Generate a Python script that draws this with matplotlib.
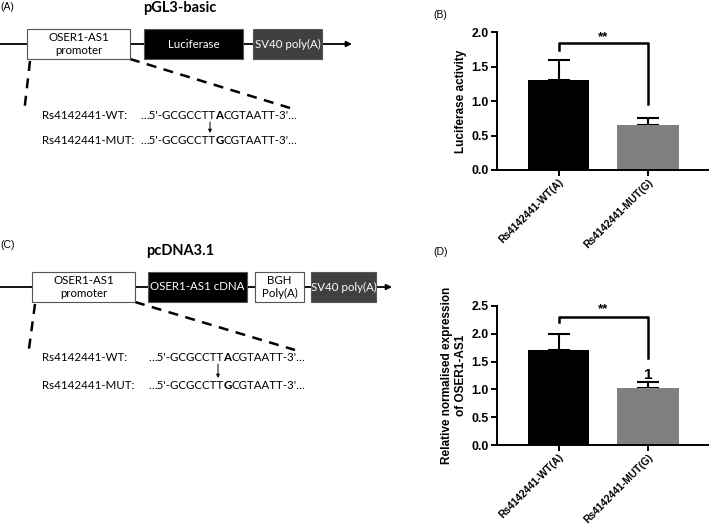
import matplotlib.pyplot as plt
from matplotlib.patches import Rectangle

# bar chart data
groups = ["Rs4142441-WT(A)", "Rs4142441-MUT(G)"]
bar_colors = ["#000000", "#808080"]
luc_mean = [1.31, 0.65]
luc_err = [0.28, 0.11]
expr_mean = [1.70, 1.02]
expr_err = [0.30, 0.11]

# construct diagrams
seq_wt = ["…5'-GCGCCTT", "A", "CGTAATT-3'…"]
seq_mut = ["…5'-GCGCCTT", "G", "CGTAATT-3'…"]

DIA_FONT = ["Lato", "DejaVu Sans"]
BAR_FONT = ["Liberation Sans", "DejaVu Sans"]

W, H = 709, 528
fig = plt.figure(figsize=(W / 100, H / 100), dpi=100)

# full-figure axes in pixel coordinates for the construct drawings
bg = fig.add_axes([0, 0, 1, 1])
bg.set_xlim(0, W)
bg.set_ylim(H, 0)
bg.axis("off")


def seq_text(x, y, parts):
    t = bg.text(x, y, parts[0], ha="left", va="bottom", fontsize=8.3, family=DIA_FONT)
    for i, p in enumerate(parts[1:]):
        t = bg.annotate(p, xy=(1, 0), xycoords=t, ha="left", va="bottom",
                        fontsize=8.3, family=DIA_FONT,
                        fontweight="bold" if i == 0 else "normal")


def construct(y0, title, boxes, arrow_end, dash_l, dash_r, wt_y, mut_y, seq_x, arrow_x,
              label, label_y, title_y):
    bg.text(0, label_y, label, ha="left", va="center", fontsize=7.5, family=BAR_FONT)
    bg.text(180, title_y, title, ha="center", va="center", fontsize=10.5,
            fontweight="bold", family=DIA_FONT)
    bg.annotate("", xy=(arrow_end, y0), xytext=(0, y0),
                arrowprops=dict(arrowstyle="-|>", color="black", lw=1.3,
                                mutation_scale=8, shrinkA=0, shrinkB=0))
    for (x1, x2, fc, tc, txt) in boxes:
        bg.add_patch(Rectangle((x1, y0 - 15), x2 - x1, 30, facecolor=fc,
                               edgecolor="#555555", lw=0.8, zorder=3))
        bg.text((x1 + x2) / 2, y0, txt, ha="center", va="center", color=tc,
                fontsize=8.3, family=DIA_FONT, zorder=4, linespacing=1.15)
    bg.plot(*zip(*dash_l), color="black", lw=1.8, ls=(0, (4, 3)))
    bg.plot(*zip(*dash_r), color="black", lw=1.8, ls=(0, (4, 3)))
    bg.text(42, wt_y, "Rs4142441-WT:", ha="left", va="bottom", fontsize=8.3, family=DIA_FONT)
    bg.text(42, mut_y, "Rs4142441-MUT:", ha="left", va="bottom", fontsize=8.3, family=DIA_FONT)
    seq_text(seq_x, wt_y, seq_wt)
    seq_text(seq_x, mut_y, seq_mut)
    bg.annotate("", xy=(arrow_x, mut_y - 13), xytext=(arrow_x, wt_y + 1),
                arrowprops=dict(arrowstyle="-|>", color="black", lw=0.7,
                                mutation_scale=5, shrinkA=0, shrinkB=0))


construct(44, "pGL3-basic",
          [(27, 130, "white", "black", "OSER1-AS1\npromoter"),
           (144, 243, "black", "white", "Luciferase"),
           (253, 322, "#404040", "white", "SV40 poly(A)")],
          352, [(30, 61), (24, 113)], [(130, 59), (290, 108)],
          121, 146, 140, 210, "(A)", 7, 8)

construct(287, "pcDNA3.1",
          [(32, 135, "white", "black", "OSER1-AS1\npromoter"),
           (148, 247, "black", "white", "OSER1-AS1 cDNA"),
           (255, 304, "white", "black", "BGH\nPoly(A)"),
           (311, 376, "#404040", "white", "SV40 poly(A)")],
          392, [(35, 304), (28, 356)], [(135, 302), (295, 350)],
          363, 391, 148, 218, "(C)", 245, 251)


def bar_panel(rect, means, errs, ymax, yticks, ylabel, bracket, star_y, label, label_xy, extra=None):
    x0, x1, y_top, y_bot = rect
    ax = fig.add_axes([x0 / W, 1 - y_bot / H, (x1 - x0) / W, (y_bot - y_top) / H])
    pos = [0, 1]
    ax.bar(pos, means, width=0.685, color=bar_colors, zorder=2)
    ax.errorbar(pos, means, yerr=[[0, 0], errs], fmt="none", ecolor="black",
                elinewidth=1.5, capsize=8, capthick=1.5, zorder=1)
    ax.set_xlim(-0.69, 1.67)
    ax.set_ylim(0, ymax)
    ax.set_yticks(yticks)
    ax.set_yticklabels(["%.1f" % v for v in yticks], fontsize=8.8, fontweight="bold", family=BAR_FONT)
    ax.set_xticks(pos)
    ax.set_xticklabels(groups, rotation=45, ha="right", rotation_mode="anchor",
                       fontsize=7.4, fontweight="bold", family=BAR_FONT)
    ax.set_ylabel(ylabel, fontsize=8.5, fontweight="bold", family=BAR_FONT, labelpad=3)
    for s in ["top", "right"]:
        ax.spines[s].set_visible(False)
    for s in ["left", "bottom"]:
        ax.spines[s].set_linewidth(1.4)
    ax.tick_params(axis="y", width=1.4, length=4, pad=2)
    ax.tick_params(axis="x", width=1.4, length=4, pad=1)
    top, left_end, right_end = bracket
    ax.plot([0, 0, 1, 1], [left_end, top, top, right_end], color="black", lw=1.8,
            clip_on=False, zorder=3)
    ax.text(0.5, star_y, "**", ha="center", va="center", fontsize=9.5,
            fontweight="bold", family=BAR_FONT)
    if extra is not None:
        ax.text(1, extra[1], extra[0], ha="center", va="bottom", fontsize=11,
                fontweight="bold", family=BAR_FONT)
    fig.text(label_xy[0] / W, 1 - label_xy[1] / H, label, ha="left", va="center",
             fontsize=7.5, family=BAR_FONT)
    return ax


bar_panel((497, 708, 32, 170), luc_mean, luc_err, 2.0, [0.0, 0.5, 1.0, 1.5, 2.0],
          "Luciferase activity", (1.84, 1.74, 0.96), 1.93, "(B)", (433, 15))

bar_panel((497, 708, 306, 445), expr_mean, expr_err, 2.5, [0.0, 0.5, 1.0, 1.5, 2.0, 2.5],
          "Relative normalised expression\nof OSER1-AS1", (2.30, 2.21, 1.57), 2.44,
          "(D)", (433, 252), extra=("1", 1.13))

fig.savefig("out.png", dpi=100)
